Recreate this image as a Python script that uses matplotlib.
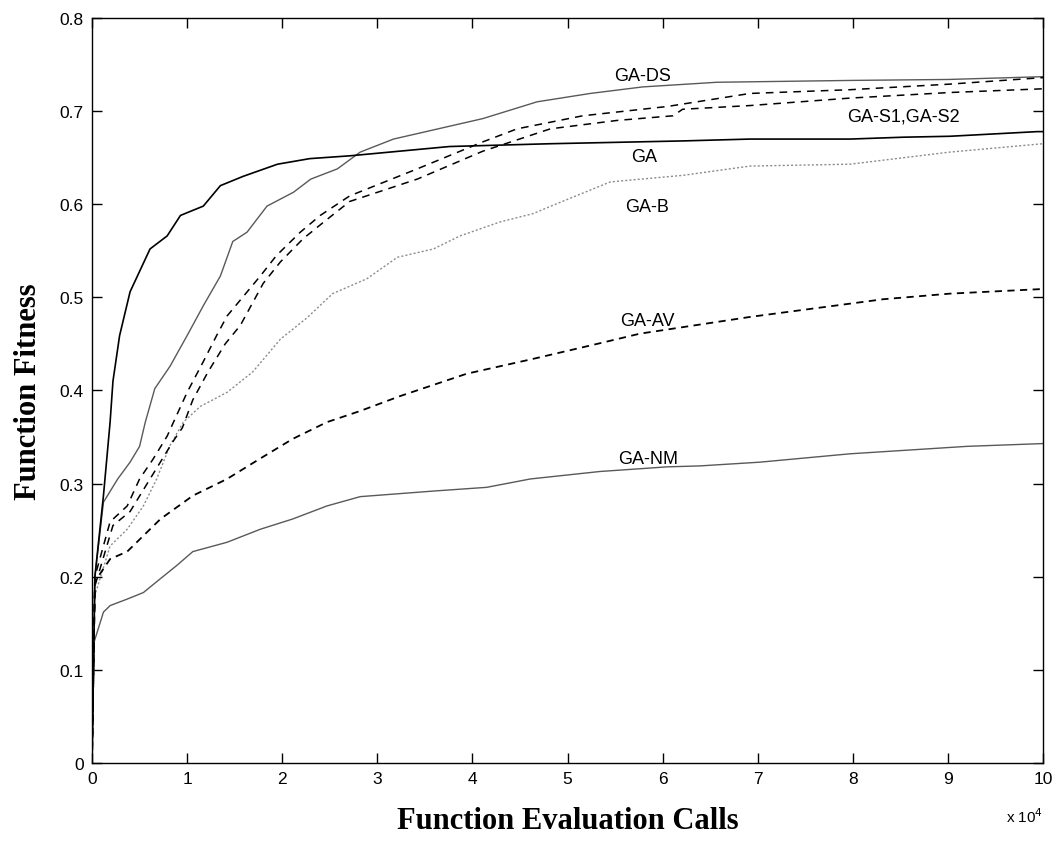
import matplotlib
matplotlib.use("Agg")
import matplotlib.pyplot as plt

# x values in units of 1e4 function evaluation calls
ga_x = [0, 0.03, 0.12, 0.19, 0.22, 0.29, 0.40, 0.61, 0.79, 0.93, 1.17, 1.35, 1.59, 1.95, 2.29, 2.71,
        3.76, 4.82, 6.21, 6.92, 7.97, 8.53, 9.02, 9.94, 10]
ga_y = [0, 0.20, 0.287, 0.366, 0.41, 0.459, 0.506, 0.552, 0.566, 0.588, 0.598, 0.620, 0.630, 0.643,
        0.649, 0.652, 0.662, 0.665, 0.668, 0.670, 0.670, 0.672, 0.673, 0.678, 0.678]

ds_x = [0, 0.03, 0.12, 0.27, 0.40, 0.50, 0.56, 0.66, 0.82, 1.0, 1.17, 1.35, 1.48, 1.63, 1.84, 2.12,
        2.30, 2.58, 2.82, 3.17, 4.11, 4.68, 5.24, 5.79, 6.57, 8.0, 9.0, 10]
ds_y = [0, 0.2, 0.28, 0.305, 0.323, 0.34, 0.366, 0.402, 0.426, 0.459, 0.491, 0.523, 0.56, 0.570,
        0.598, 0.613, 0.627, 0.638, 0.656, 0.670, 0.692, 0.710, 0.719, 0.726, 0.731, 0.733, 0.734, 0.737]

s1_x = [0, 0.03, 0.19, 0.37, 0.5, 0.64, 0.79, 0.87, 1.0, 1.17, 1.31, 1.42, 1.77, 1.94, 2.19, 2.40,
        2.71, 3.42, 4.11, 4.47, 5.16, 6.05, 6.92, 7.97, 9.02, 10]
s1_y = [0, 0.2, 0.259, 0.276, 0.305, 0.326, 0.351, 0.369, 0.398, 0.431, 0.459, 0.48, 0.523, 0.545,
        0.570, 0.588, 0.609, 0.638, 0.667, 0.681, 0.695, 0.705, 0.719, 0.723, 0.729, 0.736]

s2_x = [0, 0.03, 0.22, 0.40, 0.55, 0.70, 0.85, 0.95, 1.06, 1.22, 1.40, 1.56, 1.80, 1.98, 2.22, 2.45,
        2.71, 3.42, 4.11, 4.82, 5.52, 6.11, 6.21, 6.92, 7.97, 9.02, 10]
s2_y = [0, 0.19, 0.255, 0.27, 0.295, 0.32, 0.345, 0.36, 0.39, 0.42, 0.45, 0.47, 0.515, 0.538, 0.563,
        0.582, 0.603, 0.627, 0.657, 0.681, 0.690, 0.695, 0.702, 0.706, 0.714, 0.720, 0.724]

b_x = [0, 0.03, 0.19, 0.37, 0.54, 0.68, 0.82, 0.96, 1.14, 1.42, 1.69, 1.98, 2.26, 2.53, 2.89, 3.21,
       3.59, 3.87, 4.29, 4.64, 4.85, 5.45, 6.21, 6.92, 7.97, 9.02, 10]
b_y = [0, 0.18, 0.233, 0.251, 0.276, 0.305, 0.341, 0.366, 0.383, 0.398, 0.42, 0.455, 0.478, 0.504,
       0.52, 0.543, 0.552, 0.566, 0.581, 0.59, 0.599, 0.624, 0.631, 0.641, 0.643, 0.656, 0.665]

av_x = [0, 0.03, 0.19, 0.37, 0.54, 0.72, 1.06, 1.42, 1.77, 2.11, 2.47, 2.82, 3.24, 3.94, 4.64, 5.31,
        5.76, 6.92, 8.32, 9.02, 10]
av_y = [0, 0.195, 0.219, 0.227, 0.244, 0.262, 0.287, 0.305, 0.327, 0.348, 0.366, 0.378, 0.394, 0.418,
        0.434, 0.45, 0.461, 0.479, 0.498, 0.504, 0.509]

nm_x = [0, 0.01, 0.12, 0.19, 0.37, 0.54, 0.72, 0.89, 1.06, 1.42, 1.77, 2.11, 2.47, 2.82, 3.59, 4.15,
        4.61, 5.34, 6.05, 6.39, 7.02, 7.97, 9.2, 10]
nm_y = [0, 0.126, 0.162, 0.169, 0.176, 0.183, 0.198, 0.212, 0.227, 0.237, 0.251, 0.262, 0.276, 0.286,
        0.292, 0.296, 0.305, 0.313, 0.318, 0.319, 0.323, 0.332, 0.340, 0.343]

# curve labels and where they sit (data coords)
labels = ["GA-DS", "GA-S1,GA-S2", "GA", "GA-B", "GA-AV", "GA-NM"]
label_x = [5.79, 8.53, 5.81, 5.84, 5.84, 5.85]
label_y = [0.738, 0.695, 0.651, 0.598, 0.475, 0.327]

fig = plt.figure(figsize=(10.53, 8.45), dpi=100)
ax = fig.add_axes([0.0874, 0.0959, 0.9031, 0.8816])

ax.plot(ds_x, ds_y, color="0.35", lw=1.0)
ax.plot(nm_x, nm_y, color="0.35", lw=1.0)
ax.plot(b_x, b_y, color="0.55", lw=1.0, linestyle=(0, (1.5, 1.5)))
ax.plot(s1_x, s1_y, color="black", lw=1.1, linestyle=(0, (5, 4)))
ax.plot(s2_x, s2_y, color="black", lw=1.1, linestyle=(0, (5, 4)))
ax.plot(av_x, av_y, color="black", lw=1.3, linestyle=(0, (4, 3)))
ax.plot(ga_x, ga_y, color="black", lw=1.2)

for t, x, y in zip(labels, label_x, label_y):
    ax.text(x, y, t, fontsize=13, family="Liberation Sans", ha="center", va="center")

ax.set_xlim(0, 10)
ax.set_ylim(0, 0.8)
ax.set_xticks(range(0, 11))
ax.set_yticks([0, 0.1, 0.2, 0.3, 0.4, 0.5, 0.6, 0.7, 0.8])
ax.set_yticklabels(["0", "0.1", "0.2", "0.3", "0.4", "0.5", "0.6", "0.7", "0.8"])
ax.tick_params(direction="in", length=7.5, width=1, top=True, right=True, labelsize=12.5, pad=6)
for lab in ax.get_xticklabels() + ax.get_yticklabels():
    lab.set_family("Liberation Sans")
for sp in ax.spines.values():
    sp.set_linewidth(1.0)

ax.set_xlabel("Function Evaluation Calls", fontsize=22, family="Liberation Serif",
              fontweight="bold", labelpad=14)
ax.set_ylabel("Function Fitness", fontsize=22, family="Liberation Serif",
              fontweight="bold", labelpad=12)
ax.text(1.0, -0.058, r"x 10$^{4}$", transform=ax.transAxes, fontsize=11,
        family="Liberation Sans", ha="right", va="top")

fig.savefig("out.png", dpi=100)
